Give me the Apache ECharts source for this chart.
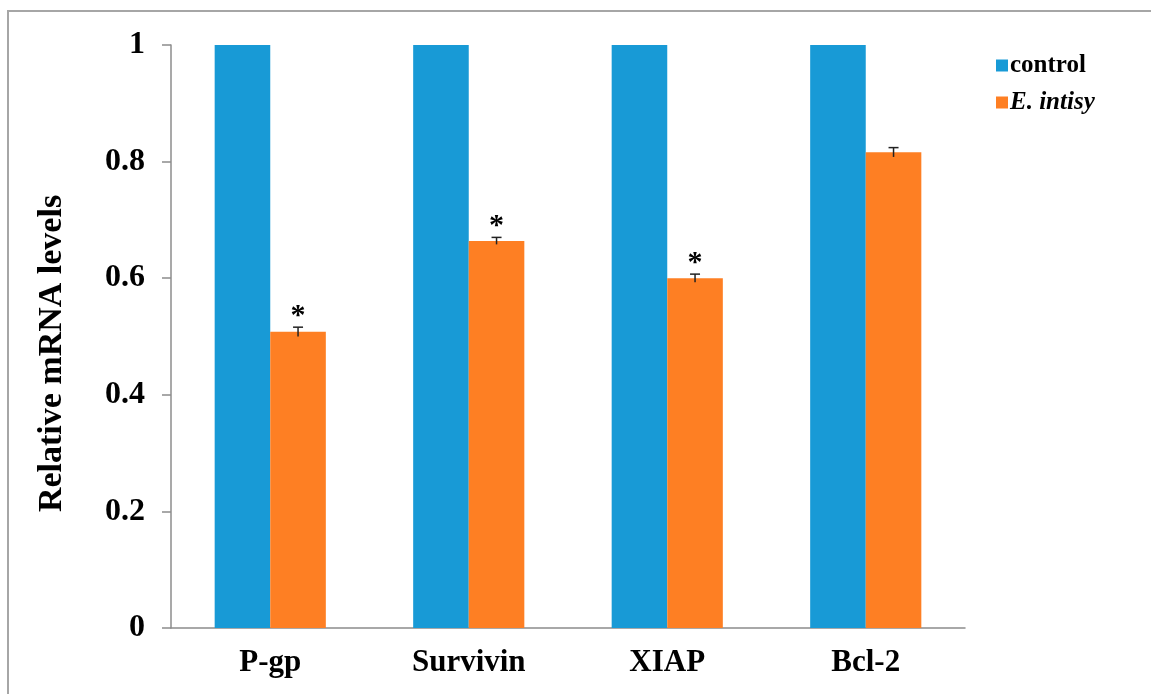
<!DOCTYPE html>
<html>
<head>
<meta charset="utf-8">
<script src="https://cdn.jsdelivr.net/npm/echarts@6/dist/echarts.min.js"></script>
<style>html,body{margin:0;padding:0;background:#fff;}#c{width:1151px;height:694px;}</style>
</head>
<body>
<div id="c"></div>
<script>
var categories = ['P-gp', 'Survivin', 'XIAP', 'Bcl-2'];
var controlValues = [1, 1, 1, 1];
var treatedValues = [0.508, 0.664, 0.600, 0.816];
var treatedErrors = [0.008, 0.006, 0.007, 0.008];
var significant = [true, true, true, false];
var yTicks = [0, 0.2, 0.4, 0.6, 0.8, 1];

var FONT = '"Liberation Serif", "Times New Roman", serif';
var chart = echarts.init(document.getElementById('c'));

var errData = treatedValues.map(function (v, i) { return [i, v, treatedErrors[i], significant[i] ? 1 : 0]; });

chart.setOption({
  animation: false,
  backgroundColor: '#fff',
  graphic: [{
    type: 'rect', shape: { x: 8, y: 11, width: 1200, height: 800 },
    style: { fill: 'none', stroke: '#a6a6a6', lineWidth: 2 }, silent: true, z: -1
  }],
  grid: { left: 171, top: 45, right: 186, bottom: 66, containLabel: false },
  legend: {
    orient: 'vertical', left: 991, top: 48,
    itemWidth: 12, itemHeight: 12, itemGap: 12,
    icon: 'rect',
    textStyle: { fontFamily: FONT, fontSize: 25, fontWeight: 'bold', color: '#000', padding: [0, 0, 0, -3],
      rich: { i: { fontFamily: FONT, fontSize: 25, fontWeight: 'bold', fontStyle: 'italic', color: '#000' } } },
    formatter: function (n) { return n === 'control' ? n : '{i|' + n + '}'; },
    data: ['control', 'E. intisy']
  },
  xAxis: {
    type: 'category', data: categories,
    axisLine: { lineStyle: { color: '#8c8c8c', width: 1.5 } },
    axisTick: { length: 8, lineStyle: { color: '#8c8c8c', width: 1.5 } },
    axisLabel: { fontFamily: FONT, fontSize: 31, fontWeight: 'bold', color: '#000', margin: 19 }
  },
  yAxis: {
    type: 'value', min: 0, max: 1, interval: 0.2,
    name: 'Relative mRNA levels', nameLocation: 'middle', nameGap: 102, nameRotate: 90,
    nameTextStyle: { fontFamily: FONT, fontSize: 34, fontWeight: 'bold', color: '#000', padding: [0, 34, 0, 0] },
    axisLine: { show: true, lineStyle: { color: '#8c8c8c', width: 1.5 } },
    axisTick: { show: true, length: 9, lineStyle: { color: '#8c8c8c', width: 1.5 } },
    splitLine: { show: false },
    axisLabel: { fontFamily: FONT, fontSize: 32, fontWeight: 'bold', color: '#000', margin: 26,
      formatter: function (v) { return String(+v.toFixed(1)); } }
  },
  series: [
    { name: 'control', type: 'bar', data: controlValues, barWidth: '28%', barGap: '0%',
      itemStyle: { color: '#189ad6' } },
    { name: 'E. intisy', type: 'bar', data: treatedValues, barWidth: '28%', barGap: '0%',
      itemStyle: { color: '#fe7f23' } },
    { name: 'err', type: 'custom', data: errData, z: 10,
      renderItem: function (params, api) {
        var i = api.value(0), v = api.value(1), e = api.value(2), sig = api.value(3);
        var bw = api.size([1, 0])[0] * 0.28;
        var base = api.coord([i, v]);
        var x = base[0] + bw / 2;
        var top = api.coord([i, v + e])[1];
        var bot = api.coord([i, v - e])[1];
        var cap = 5;
        var children = [
          { type: 'line', shape: { x1: x, y1: top, x2: x, y2: bot }, style: { stroke: '#222', lineWidth: 1.5 } },
          { type: 'line', shape: { x1: x - cap, y1: top, x2: x + cap, y2: top }, style: { stroke: '#222', lineWidth: 1.5 } }
        ];
        if (sig) {
          children.push({ type: 'text', x: x, y: top + 4,
            style: { text: '*', fontFamily: FONT, fontSize: 30, fontWeight: 'bold', fill: '#000', align: 'center', verticalAlign: 'bottom' } });
        }
        return { type: 'group', children: children };
      }
    }
  ]
});
</script>
</body>
</html>
